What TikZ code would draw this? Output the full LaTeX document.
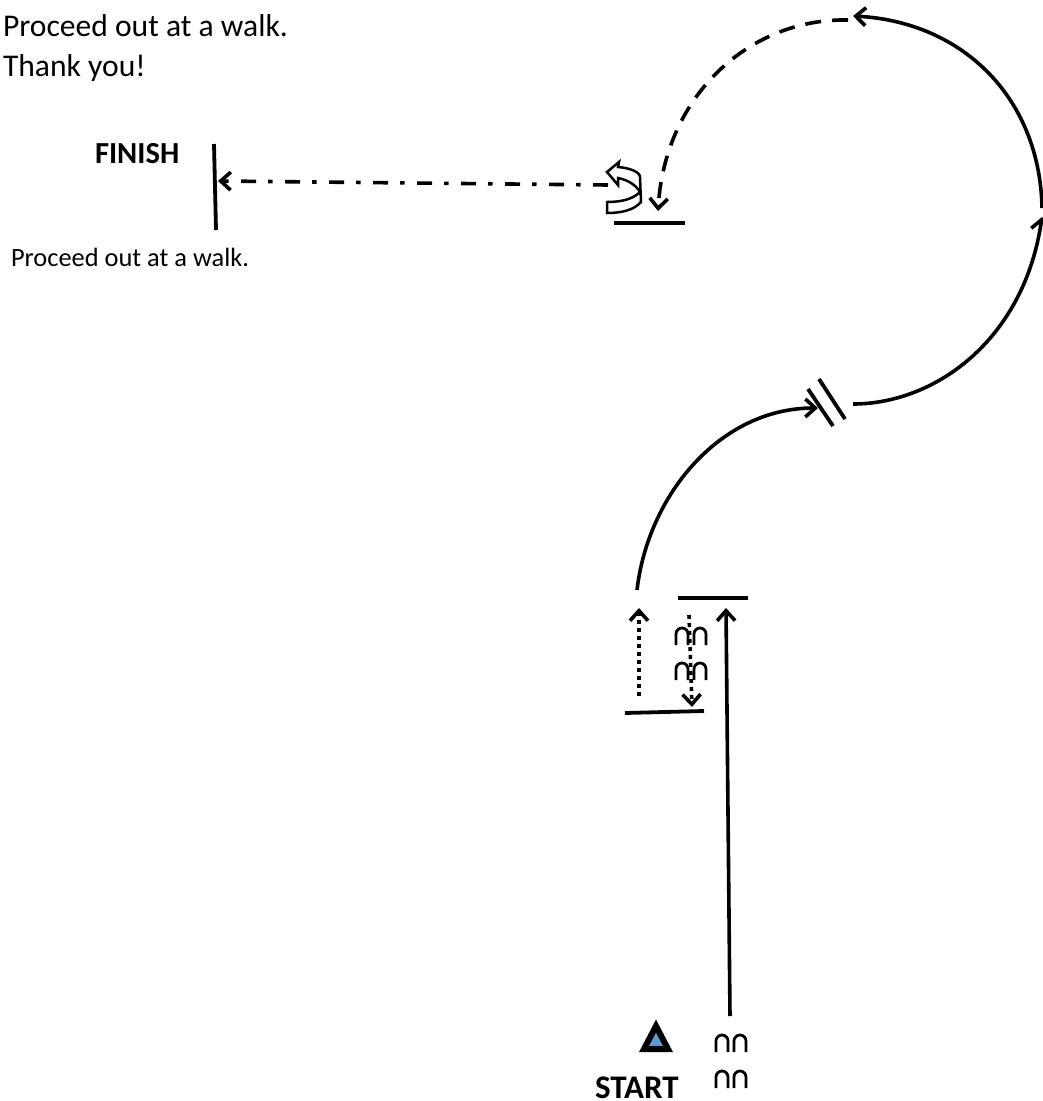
\documentclass[tikz,border=0pt]{standalone}
\usepackage{fontspec}
\setmainfont{Carlito}
\usetikzlibrary{calc}
\usetikzlibrary{arrows.meta}
\definecolor{markerblue}{HTML}{5B9BD5}
\tikzset{
    course/.style={line width=3.6pt,-{Straight Barb[length=10pt,width=18pt,line width=3.6pt]}},
    gatebar/.style={line width=3.8pt},
    txt/.style={anchor=base west,inner sep=0pt,outer sep=0pt},
    poles/.pic={
        \draw[line width=2.8pt] (0,17) -- (0,6) arc[start angle=180,end angle=360,radius=6] -- (12,17);
        \draw[line width=2.8pt] (18,17) -- (18,6) arc[start angle=180,end angle=360,radius=6] -- (30,17);
    }
}
\begin{document}
\begin{tikzpicture}[x=1pt,y=-1pt]
    \useasboundingbox (0,0) rectangle (1043,1101);

    \node[txt,font=\fontsize{31.6}{32}\selectfont] (leaveone) at (3,36) {Proceed out at a walk.};
    \node[txt,font=\fontsize{31.6}{32}\selectfont] (thanks) at (3,76) {Thank you!};
    \node[txt,font=\fontsize{30.6}{31}\selectfont\bfseries] (finishlabel) at (95,163) {FINISH};
    \node[txt,font=\fontsize{26.4}{27}\selectfont] (leavetwo) at (11,266) {Proceed out at a walk.};
    \node[txt,font=\fontsize{33}{33}\selectfont\bfseries] (startlabel) at (595,1098) {START};

    \coordinate (FinishTop) at (214,144);
    \coordinate (FinishBot) at (216,230);
    \coordinate (FinishTip) at (218,181);
    \coordinate (TurnOut)   at (608,185);
    \coordinate (TurnTip)   at (658,211);
    \coordinate (BarAL)     at (614,223);
    \coordinate (BarAR)     at (685,223);
    \coordinate (BarBL)     at (678,598);
    \coordinate (BarBR)     at (748,598);
    \coordinate (BarCL)     at (625,713);
    \coordinate (BarCR)     at (704,711);
    \coordinate (StartLine) at (730,1016);
    \coordinate (LineTip)   at (726,608);
    \coordinate (BackFrom)  at (639,696);
    \coordinate (BackTip)   at (639,608);
    \coordinate (DownFrom)  at (689,615);
    \coordinate (DownTip)   at (692,707);
    \coordinate (ArcOne)    at (637,590);
    \coordinate (ArcOneTip) at (818,408);
    \coordinate (ArcTwo)    at (853,404);
    \coordinate (ArcTwoTip) at (1042,217);
    \coordinate (ArcThree)  at (1042,208);
    \coordinate (ArcThreeTip) at (853,16);
    \coordinate (DashFrom)  at (848,20);

    % gates and bars
    \draw[gatebar] (FinishTop) -- (FinishBot);
    \draw[gatebar] (BarAL) -- (BarAR);
    \draw[gatebar] (BarBL) -- (BarBR);
    \draw[gatebar] (BarCL) -- (BarCR);
    \draw[gatebar] (808,389) -- (833,426);
    \draw[gatebar] (819,379) -- (845,419);

    % the track
    \draw[course] (StartLine) -- (LineTip);
    \draw[course] (ArcOne) .. controls (648,495) and (720,408) .. (ArcOneTip);
    \draw[course] (ArcTwo) .. controls (935,404) and (1024,340) .. (ArcTwoTip);
    \draw[course] (ArcThree) .. controls (1040,100) and (965,22) .. (ArcThreeTip);
    \draw[course,dash pattern=on 16pt off 11pt] (DashFrom) .. controls (750,18) and (665,95) .. (TurnTip);
    \draw[course,dash pattern=on 15pt off 12.5pt on 4.5pt off 12pt] (TurnOut) -- (FinishTip);
    \draw[course,dash pattern=on 4pt off 4pt] (BackFrom) -- (BackTip);

    % poles
    \foreach \y in {1035,1071}{% start poles
        \pic at (716,\y) {poles};
    }
    \foreach \y in {628,663}{% poles on the line back
        \pic at (676,\y) {poles};
    }
    \draw[course,dash pattern=on 4pt off 4pt] (DownFrom) -- (DownTip);

    % the turn
    \draw[line width=2.5pt,fill=white,line join=miter]
        (607,202) .. controls (622,202) and (633,199) .. (640,192)
        .. controls (636,185) and (628,180) .. (618,178)
        -- (618,185) -- (607,172) -- (619,162) -- (618,167)
        .. controls (630,168) and (640,172) .. (640,177)
        -- (641,202) .. controls (634,210) and (622,213) .. (607,213) -- cycle;

    % start marker
    \draw[line width=6pt,fill=markerblue,line join=miter]
        (656,1026) -- (668,1049) -- (644,1049) -- cycle;
\end{tikzpicture}
\end{document}
